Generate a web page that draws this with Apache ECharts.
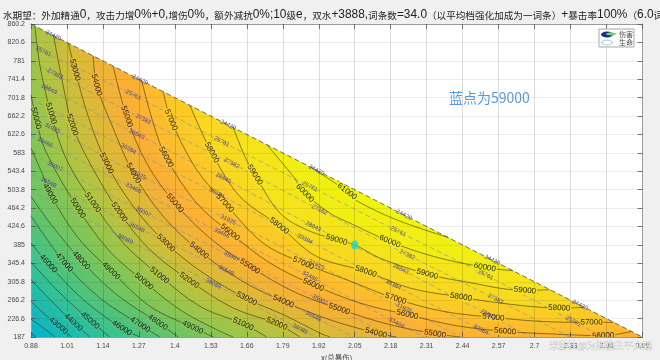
<!DOCTYPE html>
<html><head><meta charset="utf-8">
<style>html,body{margin:0;padding:0;background:#f0f0f0}#c{width:660px;height:360px;overflow:hidden;filter:blur(0.3px)}</style>
<script src="https://cdn.jsdelivr.net/npm/echarts@6/dist/echarts.min.js"></script>
</head><body><div id="c"></div>
<script>
const titleText='水期望：外加精通0，攻击力增0%+0,增伤0%，额外减抗0%;10级e，双水+3888,词条数=34.0（以平均档强化加成为一词条）+暴击率100%（6.0词条）';
const xTicks=[0.88,1.01,1.14,1.27,1.4,1.53,1.66,1.79,1.92,2.05,2.18,2.31,2.44,2.57,2.7,2.83,2.96,3.09];
const yTicks=[187,226.6,266.2,305.8,345.4,385,424.6,464.2,503.8,543.4,583,622.6,662.2,701.8,741.4,781,820.6,860.2];
const blueDot=[[2.05,385]];

const d41=[[0.88,195.6],[0.898,187]];
const d42=[[0.88,225.7],[0.925,206.3],[0.967,187]];
const d43=[[0.88,263.6],[0.925,238.6],[0.979,211.3],[1.027,187]];
const d44=[[0.88,310.2],[0.961,260],[1.033,218.5],[1.093,187]];
const d45=[[0.88,348.1],[0.985,281.5],[1.093,222.8],[1.165,187]];
const d46=[[0.88,389],[0.943,344.6],[1.069,267.2],[1.208,206.3],[1.274,187]];
const d47=[[0.88,447.7],[1.0,347.4],[1.129,270.8],[1.274,213.5],[1.346,187]];
const d48=[[0.88,489.2],[0.949,431.9],[1.061,351.7],[1.19,278],[1.338,218.5],[1.412,187]];
const d49=[[0.88,593.1],[0.925,532.2],[0.949,495],[1.051,399.7],[1.169,329.5],[1.31,252.9],[1.464,207.8],[1.539,187]];
const d50=[[0.88,707.6],[0.898,657.5],[0.931,589.5],[1.049,464.2],[1.165,371.1],[1.288,306.6],[1.418,245.7],[1.551,202.8],[1.611,187]];
const d51=[[0.894,855.9],[0.913,768.5],[0.952,668.3],[1.009,568],[1.103,476.3],[1.214,389],[1.344,319.5],[1.491,252.9],[1.647,214.9],[1.732,187]];
const d52=[[0.961,836.6],[0.997,725.6],[1.029,643.2],[1.093,560.8],[1.199,455.6],[1.31,374.6],[1.452,308.7],[1.611,249.3],[1.768,215.6],[1.852,187]];
const d53=[[1.015,819.4],[1.039,761.4],[1.087,661.1],[1.153,560.8],[1.25,467.7],[1.368,389],[1.503,324.5],[1.659,269.4],[1.792,235],[1.924,195.6],[1.96,187]];
const d54=[[1.105,791.4],[1.117,729.1],[1.177,636],[1.25,539.4],[1.358,446.3],[1.487,373.2],[1.635,310.2],[1.792,263.6],[1.96,224.2],[2.127,195.6],[2.201,187]];
const d55=[[1.177,769.2],[1.226,661.1],[1.298,560.8],[1.4,474.9],[1.527,399.7],[1.671,338.8],[1.828,285.1],[1.994,247.2],[2.177,213.5],[2.34,194.2],[2.43,187]];
const d56=[[1.28,738.5],[1.322,646.8],[1.368,573.7],[1.479,474.9],[1.599,411.9],[1.744,346],[1.9,299.4],[2.069,260],[2.24,235],[2.418,211.3],[2.593,199.2],[2.767,193.4],[2.948,189.9],[3.05,199]];
const d57=[[1.358,714.8],[1.386,653.9],[1.479,546.5],[1.581,474.9],[1.719,389],[1.864,346],[2.021,310.2],[2.198,269.4],[2.37,242.1],[2.551,229.3],[2.719,220.7],[2.906,218.5],[2.986,218.5]];
const d58=[[1.454,685.5],[1.533,583.8],[1.635,489.2],[1.777,426.2],[1.912,360.3],[2.09,328.1],[2.249,292.3],[2.434,272.9],[2.575,260],[2.789,249.3],[2.882,250.7]];
const d59=[[1.611,637.5],[1.653,575.2],[1.689,535.8],[1.78,453.4],[1.876,417.6],[1.984,396.1],[2.05,385],[2.141,356.7],[2.312,322.4],[2.442,306.6],[2.665,287.3],[2.755,288.7]];
const d60=[[1.732,600.9],[1.828,532.2],[1.87,496.4],[1.96,453.4],[2.033,431.9],[2.177,392.5],[2.334,360.3],[2.52,336.7],[2.623,329.5]];
const d61=[[1.892,552.2],[2.022,500],[2.051,482],[2.201,439.1],[2.388,401.1]];

const damageLevels=[41000,42000,43000,44000,45000,46000,47000,48000,49000,50000,51000,52000,53000,54000,55000,56000,57000,58000,59000,60000,61000];
const damageLines=[d41,d42,d43,d44,d45,d46,d47,d48,d49,d50,d51,d52,d53,d54,d55,d56,d57,d58,d59,d60,d61];
const damageLabelSpots=[[],[],[2],[2],[2],[1,3],[1,3],[2,4],[2,4,6],[1,3,5],[2,4,6,8],[2,4,6,8],[1,3,5,7],[1,3,5,7,9],[1,3,5,7,9],[2,4,6,8,10,12],[1,3,5,7,9,11],[1,3,5,7,9],[2,5,8,10],[2,5,7],[1]];
const bandBase='#04aedc';
const bandColors=['#0cb4c8','#14b8ba','#1ebcae','#2ec09e','#3cc290','#4cc380','#5cc470','#70c564','#80c558','#98c64c','#b0c444','#c8bf3c','#dcba38','#eeb438','#fbb036','#fdbb30','#fbc928','#f8d822','#f5e31c','#f1ee14','#f0f50e'];

const h24420=[[0.88,860.2],[0.961,835.5],[1.274,740.2],[1.593,643],[1.912,545.8],[2.228,449.6],[2.547,352.4],[2.864,255.8],[3.09,187]];
const h25761=[[0.88,818.7],[0.925,800.8],[1.25,707.6],[1.569,607.4],[1.888,510.7],[2.207,414],[2.523,320.9],[2.84,220.7],[2.948,187]];
const h27382=[[0.88,778.6],[0.967,752.8],[1.286,655.4],[1.605,560.8],[1.922,460.6],[2.24,363.9],[2.559,268.6],[2.827,187]];
const h28843=[[0.88,739.9],[0.946,719.8],[1.262,623.1],[1.575,528.6],[1.9,424.8],[2.216,333.1],[2.532,235],[2.689,187]];
const h30384=[[0.88,699.1],[1.232,591.6],[1.551,496.4],[1.87,397.6],[2.189,299.4],[2.505,202.8],[2.554,187]];
const h31925=[[0.88,659.7],[0.957,636],[1.268,535.8],[1.593,439.1],[1.912,342.4],[2.228,249.3],[2.434,187]];
const h33466=[[0.88,619.6],[0.931,605.2],[1.25,507.1],[1.569,410.4],[1.888,317.3],[2.201,217.1],[2.3,187]];
const h35007=[[0.88,579.5],[0.967,553.7],[1.286,455.6],[1.605,360.3],[1.924,267.2],[2.184,187]];
const h36548=[[0.88,537.9],[0.943,519.3],[1.262,422.6],[1.585,330.2],[1.9,231.4],[2.045,187]];
const h38089=[[0.88,501.4],[1.22,397.6],[1.539,301.6],[1.852,204.2],[1.909,187]];
const lifeLevels=[24420,25761,27382,28843,30384,31925,33466,35007,36548,38089];
const lifeLines=[h24420,h25761,h27382,h28843,h30384,h31925,h33466,h35007,h36548,h38089];

const titleRich=titleText.replace(/[0-9A-Za-z%+=.,;]+|[^0-9A-Za-z%+=.,;]+/g,m=>/^[0-9A-Za-z%+=.,;]/.test(m)?'{l|'+m+'}':'{c|'+m+'}');

const fillShapes=[{pts:[[0.88,860.2],[3.09,187],[0.88,187]],color:bandBase,blur:0}];
damageLines.forEach((l,i)=>fillShapes.push({pts:l.concat([[3.09,187],[0.88,860.2]]),color:bandColors[i],blur:18}));
fillShapes.push({pts:[[0.88,860.2],[3.09,860.2],[3.09,187]],color:'#ffffff',blur:0});

const labelRecs=[];
damageLines.forEach((l,i)=>damageLabelSpots[i].forEach(k=>labelRecs.push({p:l[k],a:l[k-1],b:l[k+1],t:String(damageLevels[i]),bg:bandColors[i],life:false})));
lifeLines.forEach((l,i)=>{for(let k=1;k<l.length-1;k++)labelRecs.push({p:l[k],a:l[k-1],b:l[k+1],t:String(lifeLevels[i]),life:true});});

const lineSeries=damageLines.map(l=>({type:'line',name:'伤害',data:l,smooth:0.35,showSymbol:false,silent:true,z:3,clip:true,lineStyle:{color:'rgba(40,40,10,0.72)',width:0.75}}));
const lifeSeries=lifeLines.map((l,i)=>({type:'line',name:'生命',data:l,showSymbol:false,silent:true,z:3,clip:true,lineStyle:{color:i===0?'rgba(70,70,70,0.75)':'rgba(140,140,160,0.6)',width:1,type:[5,3]}}));

function ax(pos,labels,extent,ticks){return {type:'value',position:pos,min:extent[0],max:extent[1],z:2,
  axisLine:{show:true,onZero:false,lineStyle:{color:'#9a9a9a',width:1}},
  axisTick:{show:true,inside:true,length:5,customValues:ticks,lineStyle:{color:'#555',width:0.8}},
  splitLine:{show:true,lineStyle:{color:'rgba(0,0,0,0.07)',width:1}},
  axisLabel:{show:labels,customValues:ticks,fontSize:7,margin:6,color:'#4a4a4a',fontFamily:'Liberation Sans',hideOverlap:false}};}

const chart=echarts.init(document.getElementById('c'),null,{renderer:'canvas'});
chart.setOption({animation:false,backgroundColor:'#f0f0f0',
 title:{text:titleRich,left:-2,top:4,textStyle:{fontWeight:'normal',rich:{c:{fontFamily:'Noto Sans CJK SC',fontSize:9.6,fontWeight:'normal',color:'#222'},l:{fontFamily:'Liberation Sans',fontSize:11.9,fontWeight:'normal',color:'#222'}}}},
 grid:{left:31,top:24,width:611.5,height:313,show:true,backgroundColor:'#fff',borderWidth:0,outerBoundsMode:'none',containLabel:false},
 xAxis:[Object.assign(ax('bottom',true,[0.88,3.09],xTicks),{name:'x(总暴伤)',nameLocation:'middle',nameGap:15,nameTextStyle:{fontSize:7.5,color:'#444',fontFamily:'Noto Sans CJK SC'}}),
        ax('top',false,[0.88,3.09],xTicks)],
 yAxis:[Object.assign(ax('left',true,[187,860.2],yTicks),{name:'y(总精通)',nameLocation:'middle',nameGap:25,nameTextStyle:{fontSize:7.5,color:'#444',fontFamily:'Noto Sans CJK SC'}}),
        Object.assign(ax('right',false,[187,860.2],yTicks),{splitLine:{show:false}})],
 legend:{orient:'vertical',left:599,top:29,padding:[2,1,1,2],itemGap:1,itemWidth:20,itemHeight:6,backgroundColor:'#fff',borderColor:'#a8a8a8',borderWidth:1,z:20,
   textStyle:{fontSize:7,color:'#444',fontFamily:'Noto Sans CJK SC',padding:[0,0,0,-3]},
   data:[{name:'伤害',icon:'path://M0 5a10 5 0 1 0 20 0a10 5 0 1 0 -20 0z',itemStyle:{color:'#1b2f86'},lineStyle:{opacity:0}},
         {name:'生命',icon:'path://M0 5a10 5 0 1 0 20 0a10 5 0 1 0 -20 0zM3 5a7 3 0 1 1 14 0a7 3 0 1 1 -14 0z',itemStyle:{color:'#b9d6ec'},lineStyle:{opacity:0}}]},
 graphic:[
  {type:'text',left:449,top:91,z:30,style:{text:'蓝点为59000',fontSize:14,fontFamily:'Noto Sans CJK SC',fill:'#5b9bd5'}},
  {type:'text',left:549,top:340,z:30,style:{text:'米游社@为胡桃生平火锅',fontSize:9.4,fontFamily:'Noto Sans CJK SC',fill:'rgba(255,255,255,0.8)',stroke:'rgba(120,120,120,0.55)',lineWidth:0.5}},
  {type:'ellipse',shape:{cx:611,cy:34,rx:5,ry:1.4},z:30,style:{fill:'#7ccc6c'}}
 ],
 series:[
  {type:'custom',name:'fill',coordinateSystem:'cartesian2d',z:1,silent:true,clip:true,data:fillShapes.map((s,i)=>[i]),
   renderItem:(p,api)=>{const s=fillShapes[p.dataIndex];return {type:'polygon',shape:{points:s.pts.map(q=>api.coord(q))},style:{fill:s.color,shadowBlur:s.blur,shadowColor:s.color}};}},
  ...lifeSeries,...lineSeries,
  {type:'custom',name:'labels',coordinateSystem:'cartesian2d',z:5,silent:true,clip:true,data:labelRecs.map(r=>r.p),
   renderItem:(p,api)=>{const r=labelRecs[p.dataIndex];const c=api.coord(r.p),a=api.coord(r.a),b=api.coord(r.b);
     const rot=-Math.atan2(b[1]-a[1],b[0]-a[0]);
     return {type:'text',x:c[0],y:c[1],rotation:rot,style:r.life?
       {text:r.t,fontSize:6,fontFamily:'Liberation Sans',fill:'rgba(60,55,150,0.85)',align:'center',verticalAlign:'middle'}:
       {text:r.t,fontSize:8,fontFamily:'Liberation Sans',fill:'#1d1d1d',align:'center',verticalAlign:'middle',backgroundColor:r.bg,padding:[0,1]}};}},
  {type:'scatter',name:'点',data:blueDot,symbolSize:[7,9],z:6,silent:true,itemStyle:{color:'#1fd8cc'}}
 ]});
</script></body></html>
